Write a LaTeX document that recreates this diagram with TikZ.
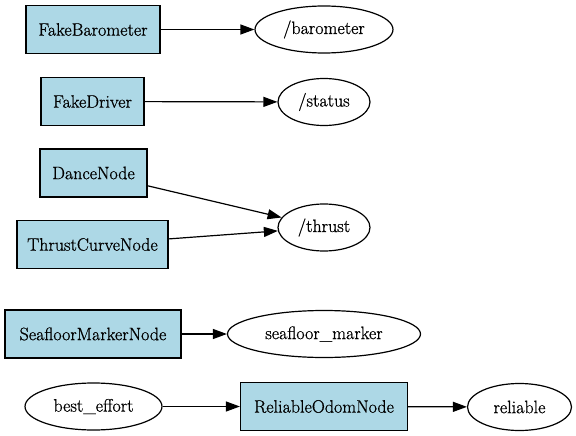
\documentclass[tikz,border=0pt]{standalone}
\usepackage{fontspec}
\newfontfamily\gvfont{Latin Modern Roman}[FakeBold=0.8]
\usetikzlibrary{shapes.geometric,arrows.meta}
\definecolor{nodeblue}{HTML}{ADD8E6}
\tikzset{
  rosnode/.style={draw=black, line width=1.2pt, fill=nodeblue, rectangle, inner sep=0pt, minimum height=48pt, font=\gvfont\fontsize{18}{20}\selectfont},
  topic/.style={draw=black, line width=1.2pt, fill=white, ellipse, inner sep=0pt, minimum height=47pt, font=\gvfont\fontsize{18}{20}\selectfont},
  edge/.style={draw=black, line width=1.2pt, -{Triangle[length=14pt,width=10pt]}}
}
\begin{document}
\begin{tikzpicture}[x=1pt,y=-1pt]
\useasboundingbox (0,0) rectangle (576,436);
\node[rosnode, minimum width=134pt] (fb) at (93,29.5) {FakeBarometer};
\node[topic, minimum width=138pt] (baro) at (324,29.5) {/barometer};
\node[rosnode, minimum width=103pt] (fd) at (92.5,101.5) {FakeDriver};
\node[topic, minimum width=92pt] (status) at (324,102) {/status};
\node[rosnode, minimum width=107pt] (dance) at (93.5,173) {DanceNode};
\node[rosnode, minimum width=151pt] (tcn) at (92.5,244.5) {ThrustCurveNode};
\node[topic, minimum width=92pt] (thrust) at (324,227.5) {/thrust};
\node[rosnode, minimum width=176pt] (smn) at (93,334) {SeafloorMarkerNode};
\node[topic, minimum width=193pt] (sm) at (324,334) {seafloor\_marker};
\node[topic, minimum width=137pt] (be) at (93.5,406.5) {best\_effort};
\node[rosnode, minimum width=167pt] (ron) at (324,406.5) {ReliableOdomNode};
\node[topic, minimum width=104pt] (rel) at (519.5,407) {reliable};
\draw[edge] (fb) -- (baro);
\draw[edge] (fd) -- (status);
\draw[edge] (dance) -- (thrust);
\draw[edge] (tcn) -- (thrust);
\draw[edge] (smn) -- (sm);
\draw[edge] (be) -- (ron);
\draw[edge] (ron) -- (rel);
\end{tikzpicture}
\end{document}
